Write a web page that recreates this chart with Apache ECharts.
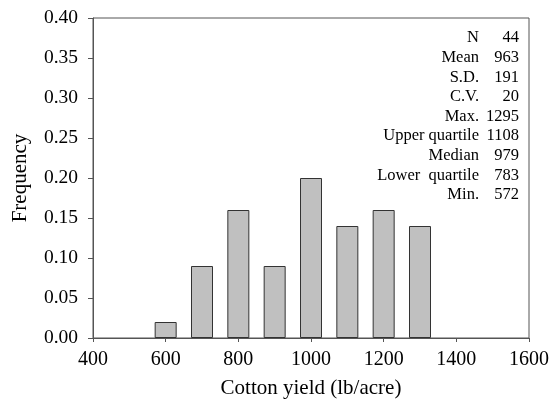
<!DOCTYPE html>
<html>
<head>
<meta charset="utf-8">
<script src="https://cdn.jsdelivr.net/npm/echarts@6/dist/echarts.min.js"></script>
<style>
  html, body { margin: 0; padding: 0; background: #fff; }
  #graphics { width: 553px; height: 405px; }
</style>
</head>
<body>
<div id="graphics"></div>
<script>
// histogram data
const bin_centers = [600, 700, 800, 900, 1000, 1100, 1200, 1300];
const frequencies = [0.02, 0.09, 0.16, 0.09, 0.20, 0.14, 0.16, 0.14];

// summary statistics box
const stat_labels = ["N", "Mean", "S.D.", "C.V.", "Max.", "Upper quartile", "Median", "Lower  quartile", "Min."];
const stat_values = ["44", "963", "191", "20", "1295", "1108", "979", "783", "572"];

const font = "'Liberation Serif', 'Times New Roman', serif";

let bar_data = [];
for (let i = 0; i < bin_centers.length; i++) {
    bar_data.push([bin_centers[i], frequencies[i]]);
}

let stat_text = [];
for (let i = 0; i < stat_labels.length; i++) {
    let y = 38 + i * 19.6;
    stat_text.push({
        type: 'text', x: 479, y: y,
        style: { text: stat_labels[i], fill: '#000', font: "16.5px " + font, textAlign: 'right', textVerticalAlign: 'middle' }
    });
    stat_text.push({
        type: 'text', x: 519, y: y,
        style: { text: stat_values[i], fill: '#000', font: "16.5px " + font, textAlign: 'right', textVerticalAlign: 'middle' }
    });
}

var myChart = echarts.init(document.getElementById('graphics'));

var option = {
    animation: false,
    backgroundColor: '#fff',
    grid: {
        left: 93, top: 18, right: 24, bottom: 67,
        show: true, borderColor: '#555', borderWidth: 1
    },
    xAxis: {
        type: 'value',
        min: 400, max: 1600, interval: 200,
        name: 'Cotton yield (lb/acre)',
        nameLocation: 'middle',
        nameGap: 40,
        nameTextStyle: { fontFamily: font, fontSize: 21, color: '#000' },
        axisLine: { show: true, lineStyle: { color: '#555', width: 1 } },
        axisTick: { show: true, length: 4, lineStyle: { color: '#555' } },
        axisLabel: {
            fontFamily: font, fontSize: 20, color: '#000', margin: 12,
            formatter: function (v) { return String(v); }
        },
        splitLine: { show: false }
    },
    yAxis: {
        type: 'value',
        min: 0, max: 0.4, interval: 0.05,
        name: 'Frequency',
        nameLocation: 'middle',
        nameGap: 62,
        nameTextStyle: { fontFamily: font, fontSize: 21, color: '#000' },
        axisLine: { show: true, lineStyle: { color: '#555', width: 1 } },
        axisTick: { show: true, length: 5, lineStyle: { color: '#555' } },
        axisLabel: {
            fontFamily: font, fontSize: 19.5, color: '#000', margin: 15,
            formatter: function (v) { return v.toFixed(2); }
        },
        splitLine: { show: false }
    },
    series: [{
        type: 'bar',
        data: bar_data,
        barWidth: 22,
        itemStyle: { color: '#c0c0c0', borderColor: '#333', borderWidth: 1 }
    }],
    graphic: stat_text
};

myChart.setOption(option);
</script>
</body>
</html>
